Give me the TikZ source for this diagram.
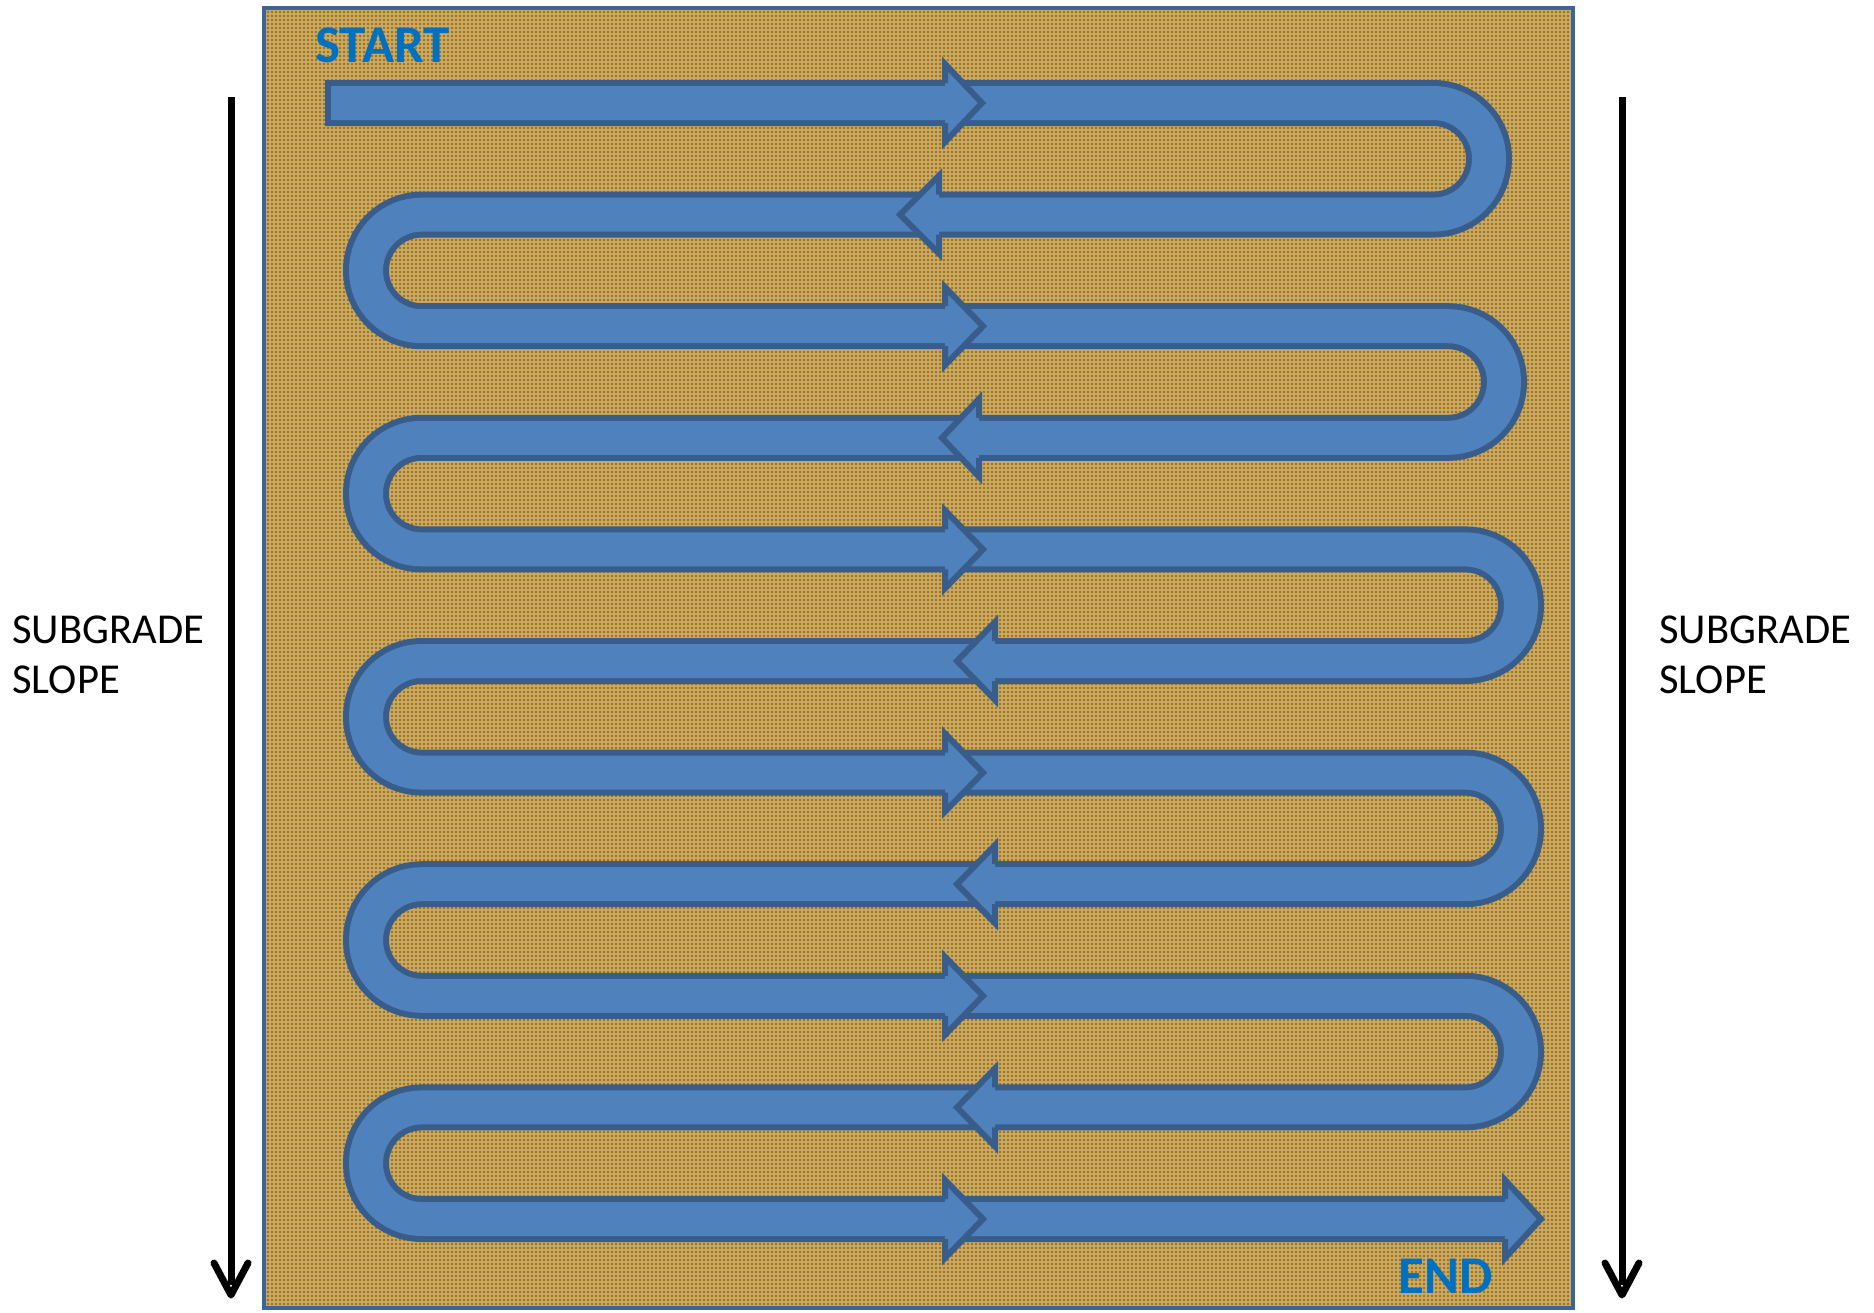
\documentclass[tikz,border=0pt]{standalone}
\usepackage{fontspec}
\setmainfont{Carlito}
\usetikzlibrary{patterns.meta}
\definecolor{bandfill}{HTML}{4F81BD}
\definecolor{bandline}{HTML}{385D8A}
\definecolor{framecol}{HTML}{3C6494}
\definecolor{soilbase}{HTML}{CAAA6A}
\definecolor{soildark}{HTML}{9E720E}
\definecolor{labelblue}{HTML}{0070C0}
\newcommand\flowhead[3]{\path[headshape] (#2,#1-20) -- (#2,#1-39) -- (#3,#1) -- (#2,#1+39) -- (#2,#1+20);}
\begin{document}
\begin{tikzpicture}[x=0.5pt,y=-0.5pt,
  bandouter/.style={draw=bandline, line width=23pt, rounded corners=27.8pt},
  bandinner/.style={draw=bandfill, line width=17pt, rounded corners=27.8pt},
  headshape/.style={fill=bandfill, draw=bandline, line width=3pt, line join=miter},
  blueword/.style={anchor=base west, inner sep=0pt, text=labelblue, font=\fontsize{26.5pt}{30pt}\selectfont\bfseries},
  slopeword/.style={anchor=base west, inner sep=0pt, font=\fontsize{21.3pt}{25pt}\selectfont},
  slopeline/.style={line width=3.5pt, black},
  slopetip/.style={line width=3.5pt, black, line cap=round, line join=round}]
\fill[white] (0,0) rectangle (1874,1312);
\useasboundingbox (0,0) rectangle (1874,1312);
% soil panel
\fill[soilbase] (264,8) rectangle (1573,1308);
\fill[pattern={Dots[distance=2pt, radius=0.65pt]}, pattern color=soildark] (264,8) rectangle (1573,1308);
\draw[framecol, line width=2pt] (264,8) rectangle (1573,1308);
% serpentine band
\draw[bandouter] (325,103) -- (1489,103) -- (1489,214.6) -- (366,214.6) -- (366,326.2) -- (1504,326.2) -- (1504,437.8) -- (366,437.8) -- (366,549.4) -- (1521,549.4) -- (1521,661) -- (366,661) -- (366,772.6) -- (1521,772.6) -- (1521,884.2) -- (366,884.2) -- (366,995.8) -- (1521,995.8) -- (1521,1107.4) -- (366,1107.4) -- (366,1219) -- (1507,1219);
\draw[bandinner] (331,103) -- (1489,103) -- (1489,214.6) -- (366,214.6) -- (366,326.2) -- (1504,326.2) -- (1504,437.8) -- (366,437.8) -- (366,549.4) -- (1521,549.4) -- (1521,661) -- (366,661) -- (366,772.6) -- (1521,772.6) -- (1521,884.2) -- (366,884.2) -- (366,995.8) -- (1521,995.8) -- (1521,1107.4) -- (366,1107.4) -- (366,1219) -- (1507,1219);
% arrow heads along the band
\flowhead{103}{945}{982}
\flowhead{214.6}{939}{900}
\flowhead{326.2}{945}{983}
\flowhead{437.8}{979}{942}
\flowhead{549.4}{945}{983}
\flowhead{661}{995}{957}
\flowhead{772.6}{945}{983}
\flowhead{884.2}{995}{957}
\flowhead{995.8}{945}{983}
\flowhead{1107.4}{995}{957}
\flowhead{1219}{945}{983}
\flowhead{1219}{1505}{1541}
% labels
\node[blueword] (start) at (315,62) {START};
\node[blueword] (end) at (1398,1293) {END};
\node[slopeword] (subL1) at (12,643) {SUBGRADE};
\node[slopeword] (subL2) at (12,693) {SLOPE};
\node[slopeword] (subR1) at (1659,643) {SUBGRADE};
\node[slopeword] (subR2) at (1659,693) {SLOPE};
% slope arrows
\coordinate (lTop) at (231,97);
\coordinate (lTip) at (231,1295);
\coordinate (rTop) at (1622,97);
\coordinate (rTip) at (1622,1295);
\draw[slopeline] (lTop) -- ([yshift=5pt]lTip);
\draw[slopetip] ([xshift=-8.5pt,yshift=16pt]lTip) -- (lTip) -- ([xshift=8.5pt,yshift=16pt]lTip);
\draw[slopeline] (rTop) -- ([yshift=5pt]rTip);
\draw[slopetip] ([xshift=-8.5pt,yshift=16pt]rTip) -- (rTip) -- ([xshift=8.5pt,yshift=16pt]rTip);
\end{tikzpicture}
\end{document}
